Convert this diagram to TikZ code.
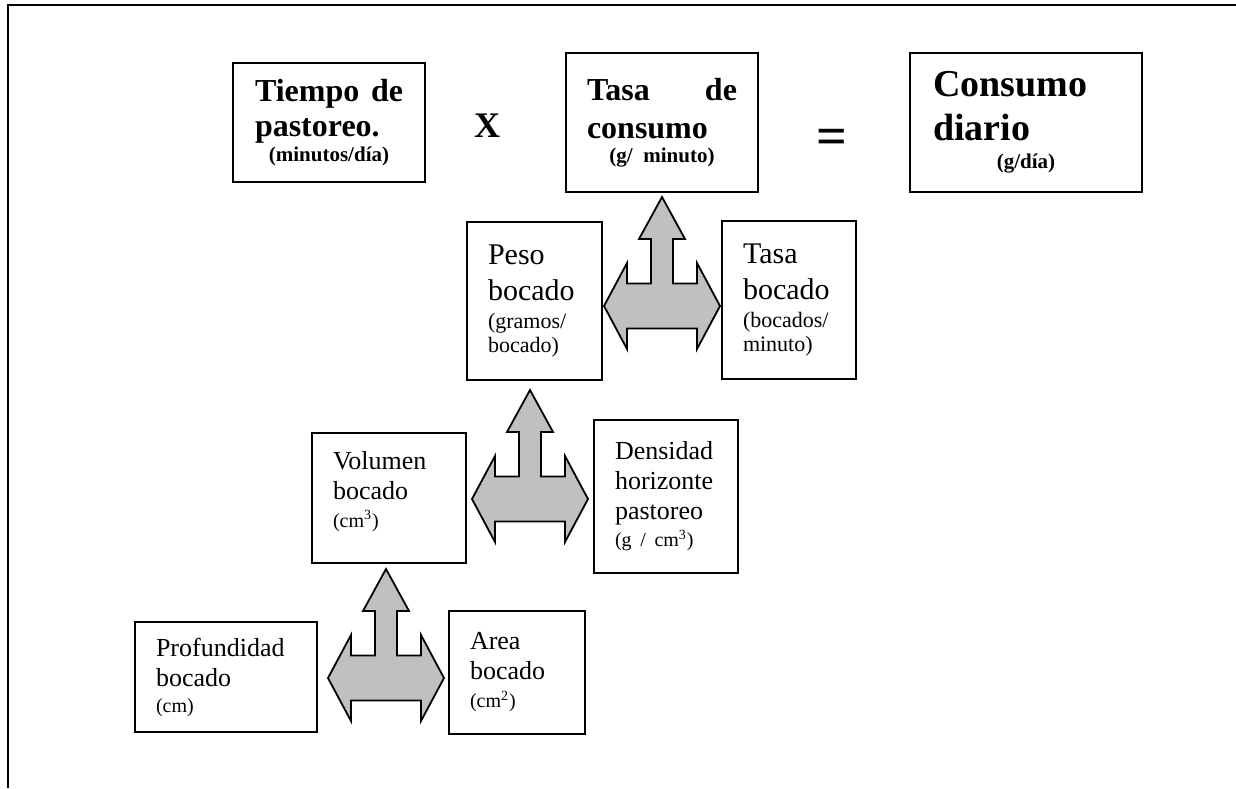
\documentclass[tikz,border=0pt]{standalone}
\usepackage{fontspec}
\setmainfont{Liberation Serif}
\usetikzlibrary{positioning}
\definecolor{gris}{RGB}{192,192,192}

\begin{document}
\begin{tikzpicture}[x=0.5pt,y=-0.5pt,
    caja/.style={draw,line width=1pt,inner sep=0pt,align=left},
    cajagrande/.style={caja,font=\bfseries\fontsize{16}{17.5}\selectfont},
    cajamedia/.style={caja,font=\fontsize{15}{18}\selectfont},
    cajachica/.style={caja,font=\fontsize{13}{15}\selectfont},
    flecha/.pic={
        \draw[line width=0.9pt,fill=gris] (0,-109) -- (23,-67) -- (11,-67) -- (11,-22.5) -- (35,-22.5) -- (35,-43) -- (58,0)
            -- (35,43) -- (35,22.5) -- (-35,22.5) -- (-35,43) -- (-58,0) -- (-35,-43) -- (-35,-22.5) -- (-11,-22.5) -- (-11,-67) -- (-23,-67) -- cycle;
    }]
    \useasboundingbox (0,0) rectangle (1236,788);
    \draw[line width=1.25pt] (1236,5) -- (8,5) -- (8,788);
    \node[cajagrande,minimum width=96pt,minimum height=59.5pt,text width=74pt] (tiempo) at (329,122.5)
        {Tiempo\hfill de\\pastoreo.\\[-5pt]\makebox[\linewidth]{\fontsize{10.5}{12}\selectfont (minutos/día)}};
    \node[font=\bfseries\fontsize{18}{20}\selectfont] (por) at (487,126) {X};
    \node[cajagrande,font=\bfseries\fontsize{16}{19}\selectfont,minimum width=96pt,minimum height=69.5pt,text width=75pt] (tasa) at (662,122.5)
        {Tasa\hfill de\\consumo\\[-7pt]\makebox[\linewidth]{\fontsize{10.5}{12}\selectfont (g/ minuto)}};
    \node[font=\bfseries\fontsize{27}{30}\selectfont] (igual) at (832,142) {=};
    \node[cajagrande,font=\bfseries\fontsize{19}{22}\selectfont,minimum width=116pt,minimum height=69.5pt,text width=93pt] (consumo) at (1026,122.5)
        {Consumo\\diario\\[-8pt]\makebox[\linewidth]{\fontsize{10.5}{12}\selectfont (g/día)}};
    \node[cajamedia,minimum width=67.5pt,minimum height=79pt,text width=46.5pt] (peso) at (534.5,301)
        {Peso\\bocado\\[-4pt]{\fontsize{11}{12}\selectfont (gramos/}\\[-6pt]{\fontsize{11}{12}\selectfont bocado)}};
    \node[cajamedia,minimum width=67pt,minimum height=79pt,text width=46pt] (tasabocado) at (789,300)
        {Tasa\\bocado\\[-4pt]{\fontsize{11}{12}\selectfont (bocados/}\\[-6pt]{\fontsize{11}{12}\selectfont minuto)}};
    \node[cajachica,minimum width=77pt,minimum height=65pt,text width=56pt] (volumen) at (389,498)
        {Volumen\\bocado\\[-1pt]{\fontsize{10}{12}\selectfont (cm\textsuperscript{3})}\rule[-9pt]{0pt}{9pt}};
    \node[cajachica,minimum width=72pt,minimum height=76.5pt,text width=51pt] (densidad) at (666,496.5)
        {Densidad\\horizonte\\pastoreo\\[-1.5pt]{\fontsize{10}{12}\selectfont (g / cm\textsuperscript{3})}};
    \node[cajachica,minimum width=91pt,minimum height=55pt,text width=70pt] (profundidad) at (226,677)
        {Profundidad\\bocado\\[-2pt]{\fontsize{10}{12}\selectfont (cm)}};
    \node[cajachica,minimum width=68pt,minimum height=61.5pt,text width=47pt] (area) at (517,672.5)
        {Area\\bocado\\[-1pt]{\fontsize{10}{12}\selectfont (cm\textsuperscript{2})}};
    \pic at (662,306) {flecha};
    \pic at (530,499) {flecha};
    \pic at (386,678) {flecha};
\end{tikzpicture}
\end{document}
